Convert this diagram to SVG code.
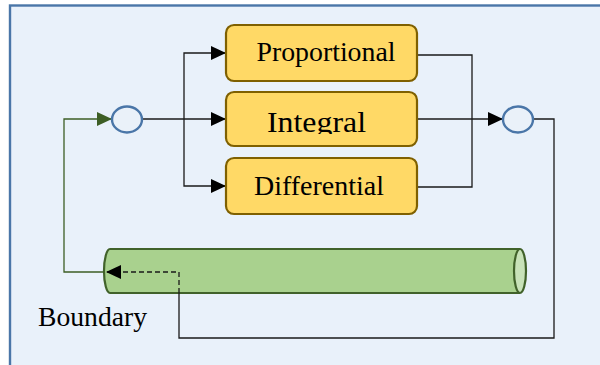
<svg xmlns="http://www.w3.org/2000/svg" width="600" height="365" viewBox="0 0 600 365">
  <style>
    .box { fill: #ffd966; stroke: #7f6000; stroke-width: 2.2; }
    .sum { fill: #eaf1f9; stroke: #4a76a8; stroke-width: 2.4; }
    .lbl { font-family: "Liberation Serif", "Times New Roman", serif; fill: #000; }
    .wire { fill: none; stroke: #1a1a1a; stroke-width: 1.3; }
    .green { fill: none; stroke: #3d5e25; stroke-width: 1.3; }
    .dash { fill: none; stroke: #1a1a1a; stroke-width: 1.3; stroke-dasharray: 5 3; }
  </style>
  <defs>
    <marker id="arrowBlack" markerWidth="15" markerHeight="14" refX="15" refY="7" orient="auto" markerUnits="userSpaceOnUse">
      <path d="M0,0 L15,7 L0,14 Z" fill="#000"/>
    </marker>
    <marker id="arrowGreen" markerWidth="15" markerHeight="14" refX="15" refY="7" orient="auto" markerUnits="userSpaceOnUse">
      <path d="M0,0 L15,7 L0,14 Z" fill="#3d5e25"/>
    </marker>
    <clipPath id="intClip">
      <rect x="226" y="92" width="191" height="42"/>
    </clipPath>
  </defs>

  <!-- page and frame -->
  <rect x="0" y="0" width="600" height="365" fill="#ffffff"/>
  <rect x="10" y="5.5" width="600" height="370" fill="#e9f1fa" stroke="#4a76a8" stroke-width="2.4"/>

  <!-- boundary (plant) cylinder, drawn first so the feedback wire lies on top -->
  <g id="boundary">
    <path d="M520,249 L110,249 A6,22 0 0 0 110,293 L520,293" fill="#a9d18e" stroke="#41622a" stroke-width="2.2"/>
    <ellipse cx="520" cy="271" rx="6" ry="22" fill="#c8e2b8" stroke="#41622a" stroke-width="2.2"/>
    <text class="lbl" x="38" y="326" font-size="27" textLength="109" lengthAdjust="spacingAndGlyphs">Boundary</text>
  </g>

  <!-- connectors -->
  <g id="connectors">
    <!-- splitter: input sum to the three branches -->
    <path class="wire" d="M142,119 L226,119" marker-end="url(#arrowBlack)"/>
    <path class="wire" d="M184,119 L184,53 L226,53" marker-end="url(#arrowBlack)"/>
    <path class="wire" d="M184,119 L184,186 L226,186" marker-end="url(#arrowBlack)"/>
    <!-- branches merging into output sum -->
    <path class="wire" d="M417,55 L472,55 L472,187 L417,187"/>
    <path class="wire" d="M417,119 L503,119" marker-end="url(#arrowBlack)"/>
    <!-- feedback loop back into the boundary -->
    <path class="wire" d="M533,119 L554,119 L554,338 L179,338 L179,293"/>
    <path class="dash" d="M179,293 L179,272 L106,272" marker-end="url(#arrowBlack)"/>
    <!-- boundary output back to input sum -->
    <path class="green" d="M104,272 L64,272 L64,119 L112,119" marker-end="url(#arrowGreen)"/>
  </g>

  <!-- summing junctions -->
  <g id="sum-in">
    <ellipse class="sum" cx="127" cy="119.5" rx="15" ry="13"/>
  </g>
  <g id="sum-out">
    <ellipse class="sum" cx="518" cy="119.5" rx="15" ry="13"/>
  </g>

  <!-- controller terms -->
  <g id="proportional">
    <rect class="box" x="226" y="25" width="191" height="56" rx="8"/>
    <text class="lbl" x="326" y="61" font-size="28" text-anchor="middle" textLength="139" lengthAdjust="spacingAndGlyphs">Proportional</text>
  </g>
  <g id="integral">
    <rect class="box" x="226" y="92" width="191" height="54" rx="8"/>
    <text class="lbl" x="316.5" y="132" font-size="29" text-anchor="middle" textLength="99" lengthAdjust="spacingAndGlyphs" clip-path="url(#intClip)">Integral</text>
  </g>
  <g id="differential">
    <rect class="box" x="226" y="158" width="191" height="56" rx="8"/>
    <text class="lbl" x="319" y="195" font-size="28" text-anchor="middle" textLength="130" lengthAdjust="spacingAndGlyphs">Differential</text>
  </g>
</svg>
